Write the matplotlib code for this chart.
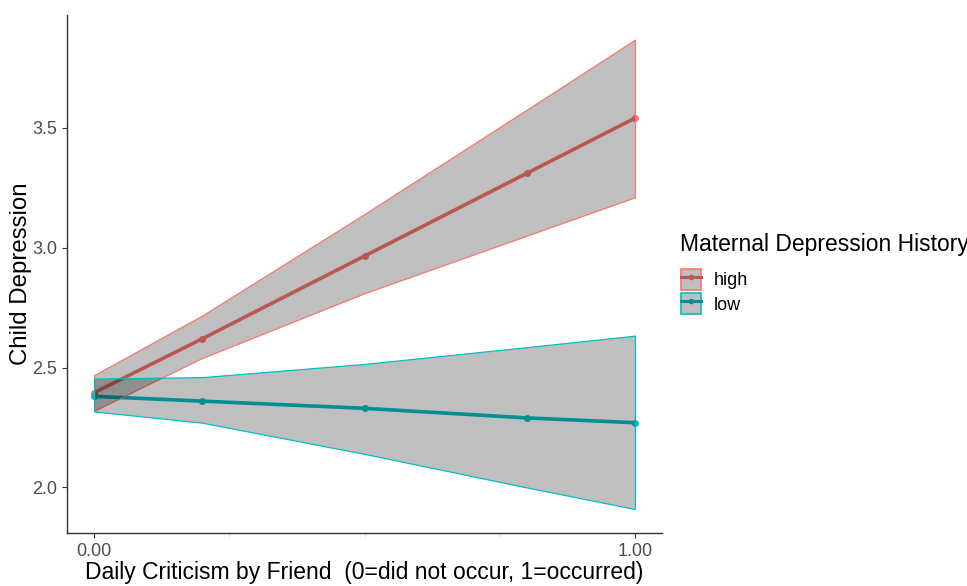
"""Child depression by daily criticism, split by maternal depression history."""
import matplotlib
matplotlib.use("Agg")
import matplotlib.pyplot as plt
from matplotlib.lines import Line2D
from matplotlib.patches import Patch
from matplotlib.legend_handler import HandlerTuple
from matplotlib.ticker import FixedLocator

plt.rcParams["font.family"] = ["Liberation Sans", "DejaVu Sans"]

# predicted values
x_vals = [0.0, 0.2, 0.5, 0.8, 1.0]
high_fit = [2.395, 2.62, 2.965, 3.31, 3.54]
high_lo = [2.32, 2.54, 2.81, 3.05, 3.21]
high_hi = [2.468, 2.717, 3.14, 3.575, 3.867]
low_fit = [2.38, 2.36, 2.33, 2.29, 2.27]
low_lo = [2.317, 2.27, 2.14, 2.00, 1.91]
low_hi = [2.454, 2.46, 2.515, 2.585, 2.633]

groups = ["high", "low"]
x_ticks = [0.0, 1.0]
x_tick_labels = ["0.00", "1.00"]
y_ticks = [2.0, 2.5, 3.0, 3.5]

C_RED = "#F8766D"
C_TEAL = "#00BFC4"
C_RED_DARK = "#BA5952"
C_TEAL_DARK = "#008F93"
C_TICK = "#4D4D4D"
RIBBON = (0, 0, 0, 0.25)

fig = plt.figure(figsize=(9.67, 5.86), dpi=100)
ax = fig.add_axes([0.0693, 0.0904, 0.6153, 0.884])

series = [
    (high_fit, high_lo, high_hi, C_RED, C_RED_DARK),
    (low_fit, low_lo, low_hi, C_TEAL, C_TEAL_DARK),
]

handles = []
for fit, lo, hi, edge, dark in series:
    ax.plot(x_vals, fit, color=edge, lw=2.6, marker="o", ms=4, zorder=2)
    ax.fill_between(x_vals, lo, hi, facecolor=RIBBON, edgecolor=edge,
                    linewidth=0.9, zorder=3)
    patch = Patch(facecolor="#BFBFBF", edgecolor=edge, linewidth=1.2)
    line = Line2D([], [], color=dark, lw=2.2, marker="o", ms=3)
    handles.append((patch, line))

ax.set_xlim(-0.05, 1.05)
ax.set_ylim(1.81, 3.97)
ax.set_xticks(x_ticks)
ax.set_xticklabels(x_tick_labels)
ax.xaxis.set_minor_locator(FixedLocator([0.25, 0.5, 0.75]))
ax.tick_params(axis="x", which="minor", length=3, color="#DDDDDD")
ax.set_yticks(y_ticks)
ax.set_yticklabels([f"{v:.1f}" for v in y_ticks])
ax.tick_params(axis="both", which="major", labelsize=13, labelcolor=C_TICK,
               color="#333333", length=3.5, width=0.8)

for side in ["top", "right"]:
    ax.spines[side].set_visible(False)
for side in ["left", "bottom"]:
    ax.spines[side].set_color("#333333")
    ax.spines[side].set_linewidth(1.0)

ax.set_xlabel("Daily Criticism by Friend  (0=did not occur, 1=occurred)",
              fontsize=16.5, labelpad=1)
ax.set_ylabel("Child Depression", fontsize=17.3, labelpad=0)

# legend title as separate text so the gap to the keys matches
fig.text(0.703, 1 - 245 / 586, "Maternal Depression History",
         fontsize=16.5, ha="left", va="center")
leg = fig.legend(handles, groups, handler_map={tuple: HandlerTuple(ndivide=1)},
                 fontsize=13, frameon=False, loc="upper left",
                 bbox_to_anchor=(0.704, 1 - 269 / 586),
                 handlelength=1.11, handleheight=1.41, labelspacing=0.17,
                 handletextpad=0.72, borderaxespad=0, borderpad=0)

fig.savefig("out.png", dpi=100, facecolor="white")
